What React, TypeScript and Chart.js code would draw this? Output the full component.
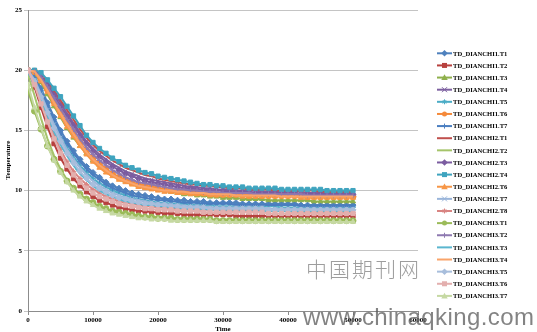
import React, { useEffect, useRef } from "react";
import { Chart, registerables } from "chart.js";
Chart.register(...registerables);

const times = [0, 1000, 2000, 3000, 4000, 5000, 6000, 7000, 8000, 9000, 10000, 11000, 12000, 13000, 14000, 15000, 16000, 17000, 18000, 19000, 20000, 21000, 22000, 23000, 24000, 25000, 26000, 27000, 28000, 29000, 30000, 31000, 32000, 33000, 34000, 35000, 36000, 37000, 38000, 39000, 40000, 41000, 42000, 43000, 44000, 45000, 46000, 47000, 48000, 49000, 50000];

const xTicks = [0, 10000, 20000, 30000, 40000, 50000, 60000];
const yTicks = [0, 5, 10, 15, 20, 25];

const names = [
  "TD_DIANCHI1.T1", "TD_DIANCHI1.T2", "TD_DIANCHI1.T3", "TD_DIANCHI1.T4", "TD_DIANCHI1.T5", "TD_DIANCHI1.T6", "TD_DIANCHI1.T7",
  "TD_DIANCHI2.T1", "TD_DIANCHI2.T2", "TD_DIANCHI2.T3", "TD_DIANCHI2.T4", "TD_DIANCHI2.T6", "TD_DIANCHI2.T7", "TD_DIANCHI2.T8",
  "TD_DIANCHI3.T1", "TD_DIANCHI3.T2", "TD_DIANCHI3.T3", "TD_DIANCHI3.T4", "TD_DIANCHI3.T5", "TD_DIANCHI3.T6", "TD_DIANCHI3.T7",
];

const colors = [
  "#4F81BD", "#B7413E", "#8FB04C", "#7D60A0", "#4BACC6", "#F58A3A", "#4A7EC0",
  "#C0504D", "#A5C46A", "#7B5CA0", "#3FA4BF", "#F79646", "#9AB5DA", "#D98482",
  "#9BBB59", "#8E79B0", "#5BB6CF", "#F9A46A", "#A8BEDC", "#E3AFAE", "#C6D9A3",
];

const markers = [
  "rectRot", "rect", "triangle", "crossRot", "star", "circle", "cross",
  "none", "none", "rectRot", "rect", "triangle", "crossRot", "star",
  "circle", "cross", "none", "none", "rectRot", "rect", "triangle",
];

const d1_T1 = [20.0, 19.5, 18.5, 17.3, 16.1, 15.0, 14.1, 13.3, 12.6, 12.0, 11.5, 11.1, 10.7, 10.4, 10.2, 10.0, 9.8, 9.7, 9.6, 9.5, 9.4, 9.3, 9.3, 9.2, 9.2, 9.1, 9.1, 9.1, 9.0, 9.0, 9.0, 9.0, 9.0, 8.9, 8.9, 8.9, 8.9, 8.9, 8.9, 8.9, 8.9, 8.9, 8.8, 8.8, 8.8, 8.8, 8.8, 8.8, 8.8, 8.8, 8.8];
const d1_T2 = [20.0, 18.6, 16.9, 15.3, 13.9, 12.7, 11.8, 11.0, 10.4, 9.9, 9.5, 9.2, 9.0, 8.8, 8.6, 8.5, 8.4, 8.3, 8.3, 8.2, 8.2, 8.1, 8.1, 8.1, 8.0, 8.0, 8.0, 8.0, 8.0, 8.0, 8.0, 8.0, 7.9, 7.9, 7.9, 7.9, 7.9, 7.9, 7.9, 7.9, 7.9, 7.9, 7.9, 7.9, 7.9, 7.9, 7.9, 7.9, 7.9, 7.9, 7.9];
const d1_T3 = [20.0, 19.7, 19.0, 18.0, 17.0, 16.1, 15.2, 14.4, 13.7, 13.1, 12.5, 12.1, 11.7, 11.4, 11.1, 10.8, 10.6, 10.4, 10.3, 10.2, 10.1, 10.0, 9.9, 9.8, 9.7, 9.7, 9.6, 9.6, 9.5, 9.5, 9.4, 9.4, 9.4, 9.3, 9.3, 9.3, 9.3, 9.2, 9.2, 9.2, 9.2, 9.2, 9.2, 9.2, 9.1, 9.1, 9.1, 9.1, 9.1, 9.1, 9.1];
const d1_T4 = [20.0, 20.0, 19.6, 18.9, 18.1, 17.3, 16.4, 15.6, 14.8, 14.1, 13.5, 13.0, 12.6, 12.2, 11.9, 11.6, 11.4, 11.2, 11.0, 10.9, 10.8, 10.7, 10.6, 10.5, 10.4, 10.3, 10.3, 10.2, 10.2, 10.1, 10.1, 10.1, 10.0, 10.0, 10.0, 10.0, 9.9, 9.9, 9.9, 9.9, 9.9, 9.9, 9.9, 9.8, 9.8, 9.8, 9.8, 9.8, 9.8, 9.8, 9.8];
const d1_T5 = [20.0, 19.3, 18.1, 16.8, 15.6, 14.5, 13.6, 12.8, 12.1, 11.5, 11.0, 10.6, 10.3, 10.0, 9.8, 9.6, 9.4, 9.3, 9.2, 9.1, 9.0, 9.0, 8.9, 8.9, 8.9, 8.8, 8.8, 8.8, 8.8, 8.7, 8.7, 8.7, 8.7, 8.7, 8.7, 8.7, 8.7, 8.7, 8.7, 8.6, 8.6, 8.6, 8.6, 8.6, 8.6, 8.6, 8.6, 8.6, 8.6, 8.6, 8.6];
const d1_T6 = [20.0, 19.9, 19.3, 18.4, 17.4, 16.5, 15.6, 14.8, 14.0, 13.3, 12.7, 12.2, 11.8, 11.4, 11.1, 10.9, 10.7, 10.5, 10.4, 10.3, 10.2, 10.1, 10.0, 10.0, 9.9, 9.9, 9.8, 9.8, 9.8, 9.7, 9.7, 9.7, 9.7, 9.7, 9.6, 9.6, 9.6, 9.6, 9.6, 9.6, 9.6, 9.6, 9.6, 9.5, 9.5, 9.5, 9.5, 9.5, 9.5, 9.5, 9.5];
const d1_T7 = [20.0, 19.4, 18.3, 17.1, 15.9, 14.8, 13.9, 13.1, 12.4, 11.8, 11.3, 10.9, 10.5, 10.2, 10.0, 9.8, 9.6, 9.5, 9.4, 9.3, 9.2, 9.2, 9.1, 9.1, 9.0, 9.0, 9.0, 8.9, 8.9, 8.9, 8.9, 8.9, 8.8, 8.8, 8.8, 8.8, 8.8, 8.8, 8.8, 8.8, 8.8, 8.8, 8.7, 8.7, 8.7, 8.7, 8.7, 8.7, 8.7, 8.7, 8.7];
const d2_T1 = [20.0, 20.0, 19.7, 19.1, 18.3, 17.5, 16.7, 15.9, 15.1, 14.4, 13.8, 13.3, 12.9, 12.5, 12.2, 11.9, 11.7, 11.5, 11.3, 11.2, 11.0, 10.9, 10.8, 10.7, 10.6, 10.5, 10.5, 10.4, 10.4, 10.3, 10.3, 10.2, 10.2, 10.2, 10.1, 10.1, 10.1, 10.1, 10.0, 10.0, 10.0, 10.0, 10.0, 10.0, 10.0, 9.9, 9.9, 9.9, 9.9, 9.9, 9.9];
const d2_T2 = [19.6, 17.9, 16.0, 14.3, 12.9, 11.8, 10.9, 10.2, 9.6, 9.2, 8.9, 8.6, 8.4, 8.3, 8.2, 8.1, 8.0, 7.9, 7.9, 7.8, 7.8, 7.8, 7.7, 7.7, 7.7, 7.7, 7.7, 7.7, 7.6, 7.6, 7.6, 7.6, 7.6, 7.6, 7.6, 7.6, 7.6, 7.6, 7.6, 7.6, 7.6, 7.6, 7.6, 7.6, 7.6, 7.6, 7.6, 7.6, 7.6, 7.6, 7.6];
const d2_T3 = [20.0, 19.9, 19.5, 18.8, 17.9, 17.0, 16.2, 15.4, 14.6, 13.9, 13.3, 12.8, 12.4, 12.0, 11.7, 11.4, 11.2, 11.0, 10.8, 10.7, 10.6, 10.5, 10.4, 10.3, 10.2, 10.2, 10.1, 10.1, 10.0, 10.0, 10.0, 9.9, 9.9, 9.9, 9.9, 9.8, 9.8, 9.8, 9.8, 9.8, 9.8, 9.8, 9.7, 9.7, 9.7, 9.7, 9.7, 9.7, 9.7, 9.7, 9.7];
const d2_T4 = [20.0, 20.0, 19.8, 19.2, 18.5, 17.8, 17.0, 16.2, 15.4, 14.6, 14.0, 13.5, 13.1, 12.7, 12.4, 12.1, 11.9, 11.7, 11.5, 11.4, 11.2, 11.1, 11.0, 10.9, 10.8, 10.7, 10.6, 10.5, 10.5, 10.4, 10.4, 10.3, 10.3, 10.3, 10.2, 10.2, 10.2, 10.2, 10.2, 10.1, 10.1, 10.1, 10.1, 10.1, 10.1, 10.1, 10.0, 10.0, 10.0, 10.0, 10.0];
const d2_T6 = [20.0, 19.8, 19.1, 18.2, 17.2, 16.2, 15.3, 14.5, 13.7, 13.0, 12.4, 11.9, 11.5, 11.2, 10.9, 10.7, 10.5, 10.3, 10.2, 10.1, 10.0, 9.9, 9.9, 9.8, 9.8, 9.7, 9.7, 9.7, 9.6, 9.6, 9.6, 9.6, 9.6, 9.5, 9.5, 9.5, 9.5, 9.5, 9.5, 9.5, 9.5, 9.5, 9.4, 9.4, 9.4, 9.4, 9.4, 9.4, 9.4, 9.4, 9.4];
const d2_T7 = [20.0, 19.2, 18.0, 16.7, 15.5, 14.4, 13.4, 12.6, 11.9, 11.3, 10.8, 10.4, 10.1, 9.8, 9.6, 9.4, 9.3, 9.2, 9.1, 9.0, 8.9, 8.9, 8.8, 8.8, 8.7, 8.7, 8.7, 8.7, 8.6, 8.6, 8.6, 8.6, 8.6, 8.6, 8.6, 8.6, 8.6, 8.5, 8.5, 8.5, 8.5, 8.5, 8.5, 8.5, 8.5, 8.5, 8.5, 8.5, 8.5, 8.5, 8.5];
const d2_T8 = [20.0, 18.9, 17.4, 15.9, 14.6, 13.4, 12.4, 11.6, 11.0, 10.5, 10.1, 9.8, 9.5, 9.3, 9.1, 9.0, 8.9, 8.8, 8.7, 8.7, 8.6, 8.6, 8.5, 8.5, 8.5, 8.4, 8.4, 8.4, 8.4, 8.4, 8.3, 8.3, 8.3, 8.3, 8.3, 8.3, 8.3, 8.3, 8.3, 8.3, 8.3, 8.2, 8.2, 8.2, 8.2, 8.2, 8.2, 8.2, 8.2, 8.2, 8.2];
const d3_T1 = [18.3, 16.6, 15.1, 13.7, 12.6, 11.6, 10.8, 10.2, 9.7, 9.3, 9.0, 8.7, 8.5, 8.3, 8.2, 8.1, 8.0, 7.9, 7.8, 7.8, 7.7, 7.7, 7.7, 7.6, 7.6, 7.6, 7.6, 7.6, 7.6, 7.5, 7.5, 7.5, 7.5, 7.5, 7.5, 7.5, 7.5, 7.5, 7.5, 7.5, 7.5, 7.5, 7.5, 7.5, 7.5, 7.5, 7.5, 7.5, 7.5, 7.5, 7.5];
const d3_T2 = [20.0, 19.9, 19.4, 18.6, 17.7, 16.8, 15.9, 15.1, 14.3, 13.6, 13.0, 12.5, 12.1, 11.7, 11.4, 11.1, 10.9, 10.7, 10.6, 10.5, 10.4, 10.3, 10.2, 10.1, 10.1, 10.0, 10.0, 9.9, 9.9, 9.9, 9.8, 9.8, 9.8, 9.8, 9.8, 9.7, 9.7, 9.7, 9.7, 9.7, 9.7, 9.7, 9.7, 9.6, 9.6, 9.6, 9.6, 9.6, 9.6, 9.6, 9.6];
const d3_T3 = [19.8, 18.9, 17.6, 16.2, 14.9, 13.8, 12.9, 12.1, 11.4, 10.9, 10.4, 10.0, 9.7, 9.5, 9.3, 9.1, 9.0, 8.9, 8.8, 8.8, 8.7, 8.7, 8.6, 8.6, 8.5, 8.5, 8.5, 8.5, 8.4, 8.4, 8.4, 8.4, 8.4, 8.4, 8.4, 8.4, 8.3, 8.3, 8.3, 8.3, 8.3, 8.3, 8.3, 8.3, 8.3, 8.3, 8.3, 8.3, 8.3, 8.3, 8.3];
const d3_T4 = [20.0, 19.9, 19.2, 18.3, 17.3, 16.4, 15.5, 14.7, 13.9, 13.2, 12.6, 12.1, 11.7, 11.3, 11.0, 10.8, 10.6, 10.4, 10.3, 10.2, 10.1, 10.0, 10.0, 9.9, 9.9, 9.8, 9.8, 9.8, 9.7, 9.7, 9.7, 9.7, 9.6, 9.6, 9.6, 9.6, 9.6, 9.6, 9.6, 9.5, 9.5, 9.5, 9.5, 9.5, 9.5, 9.5, 9.5, 9.5, 9.5, 9.5, 9.5];
const d3_T5 = [20.0, 19.1, 17.8, 16.5, 15.2, 14.1, 13.1, 12.3, 11.6, 11.0, 10.5, 10.2, 9.9, 9.6, 9.4, 9.3, 9.1, 9.0, 8.9, 8.9, 8.8, 8.8, 8.7, 8.7, 8.6, 8.6, 8.6, 8.6, 8.5, 8.5, 8.5, 8.5, 8.5, 8.5, 8.5, 8.5, 8.5, 8.4, 8.4, 8.4, 8.4, 8.4, 8.4, 8.4, 8.4, 8.4, 8.4, 8.4, 8.4, 8.4, 8.4];
const d3_T6 = [20.0, 18.8, 17.2, 15.7, 14.3, 13.1, 12.1, 11.3, 10.7, 10.2, 9.8, 9.5, 9.3, 9.1, 8.9, 8.8, 8.7, 8.6, 8.5, 8.5, 8.4, 8.4, 8.4, 8.3, 8.3, 8.3, 8.3, 8.2, 8.2, 8.2, 8.2, 8.2, 8.2, 8.2, 8.2, 8.2, 8.2, 8.1, 8.1, 8.1, 8.1, 8.1, 8.1, 8.1, 8.1, 8.1, 8.1, 8.1, 8.1, 8.1, 8.1];
const d3_T7 = [18.8, 16.9, 15.2, 13.7, 12.5, 11.5, 10.7, 10.0, 9.5, 9.1, 8.8, 8.5, 8.3, 8.1, 8.0, 7.9, 7.8, 7.7, 7.7, 7.6, 7.6, 7.6, 7.5, 7.5, 7.5, 7.5, 7.5, 7.5, 7.5, 7.4, 7.4, 7.4, 7.4, 7.4, 7.4, 7.4, 7.4, 7.4, 7.4, 7.4, 7.4, 7.4, 7.4, 7.4, 7.4, 7.4, 7.4, 7.4, 7.4, 7.4, 7.4];

const seriesValues = [
  d1_T1, d1_T2, d1_T3, d1_T4, d1_T5, d1_T6, d1_T7,
  d2_T1, d2_T2, d2_T3, d2_T4, d2_T6, d2_T7, d2_T8,
  d3_T1, d3_T2, d3_T3, d3_T4, d3_T5, d3_T6, d3_T7,
];

const SERIF = '"Liberation Serif", "Times New Roman", serif';

function drawMarker(ctx: CanvasRenderingContext2D, style: string, x: number, y: number, r: number, color: string) {
  ctx.save();
  ctx.fillStyle = color;
  ctx.strokeStyle = color;
  ctx.lineWidth = 1;
  ctx.beginPath();
  switch (style) {
    case "circle":
      ctx.arc(x, y, r, 0, Math.PI * 2);
      ctx.fill();
      break;
    case "rect":
      ctx.fillRect(x - r, y - r, 2 * r, 2 * r);
      break;
    case "rectRot":
      ctx.moveTo(x, y - r * 1.3);
      ctx.lineTo(x + r * 1.3, y);
      ctx.lineTo(x, y + r * 1.3);
      ctx.lineTo(x - r * 1.3, y);
      ctx.closePath();
      ctx.fill();
      break;
    case "triangle":
      ctx.moveTo(x, y - r * 1.3);
      ctx.lineTo(x + r * 1.3, y + r);
      ctx.lineTo(x - r * 1.3, y + r);
      ctx.closePath();
      ctx.fill();
      break;
    case "cross":
      ctx.moveTo(x - r, y); ctx.lineTo(x + r, y);
      ctx.moveTo(x, y - r); ctx.lineTo(x, y + r);
      ctx.stroke();
      break;
    case "crossRot":
      ctx.moveTo(x - r, y - r); ctx.lineTo(x + r, y + r);
      ctx.moveTo(x - r, y + r); ctx.lineTo(x + r, y - r);
      ctx.stroke();
      break;
    case "star":
      ctx.moveTo(x - r, y); ctx.lineTo(x + r, y);
      ctx.moveTo(x, y - r); ctx.lineTo(x, y + r);
      ctx.moveTo(x - r * 0.7, y - r * 0.7); ctx.lineTo(x + r * 0.7, y + r * 0.7);
      ctx.moveTo(x - r * 0.7, y + r * 0.7); ctx.lineTo(x + r * 0.7, y - r * 0.7);
      ctx.stroke();
      break;
    default:
      break;
  }
  ctx.restore();
}

const overlayPlugin = {
  id: "overlay",
  afterDraw(chart: any) {
    const ctx: CanvasRenderingContext2D = chart.ctx;
    const area = chart.chartArea;
    ctx.save();
    const rowStart = 53.3;
    const rowGap = 12.13;
    names.forEach((name, i) => {
      const y = rowStart + rowGap * i;
      ctx.strokeStyle = colors[i];
      ctx.lineWidth = 2;
      ctx.beginPath();
      ctx.moveTo(437, y);
      ctx.lineTo(452, y);
      ctx.stroke();
      if (markers[i] !== "none") drawMarker(ctx, markers[i], 444.5, y, 2.5, colors[i]);
      ctx.fillStyle = "#000";
      ctx.font = `bold 6.6px ${SERIF}`;
      ctx.textAlign = "left";
      ctx.textBaseline = "middle";
      ctx.fillText(name, 453, y + 0.5);
    });
    ctx.fillStyle = "#000";
    ctx.font = `bold 7px ${SERIF}`;
    ctx.textAlign = "center";
    ctx.textBaseline = "middle";
    ctx.fillText("Time", (area.left + area.right) / 2, 329);
    ctx.save();
    ctx.translate(8, 160);
    ctx.rotate(-Math.PI / 2);
    ctx.fillText("Temperature", 0, 0);
    ctx.restore();
    ctx.restore();
  },
};

export default function App() {
  const canvasRef = useRef<HTMLCanvasElement | null>(null);

  useEffect(() => {
    const prevMargin = document.body.style.margin;
    document.body.style.margin = "0";
    const canvas = canvasRef.current;
    if (!canvas) return;
    const datasets = names.map((name, i) => {
      const m = markers[i];
      const big = m === "rect" || m === "circle" || m === "triangle" || m === "rectRot";
      return {
        label: name,
        data: times.map((t, k) => ({ x: t, y: seriesValues[i][k] })),
        borderColor: colors[i],
        backgroundColor: colors[i],
        pointBackgroundColor: colors[i],
        pointBorderColor: colors[i],
        pointStyle: m === "none" ? "circle" : m,
        pointRadius: m === "none" ? 0 : big ? 3 : 2.8,
        pointBorderWidth: 1,
        borderWidth: 2,
        fill: false,
        tension: 0,
        order: names.length - i,
      };
    });
    const tickFont = { family: SERIF, size: 7, weight: "bold" as const };
    const chart = new Chart(canvas, {
      type: "line",
      data: { datasets },
      options: {
        animation: false,
        responsive: false,
        maintainAspectRatio: false,
        events: [],
        layout: { padding: { top: 10, right: 119, bottom: 0, left: 0 } },
        plugins: { legend: { display: false }, tooltip: { enabled: false } },
        scales: {
          x: {
            type: "linear",
            min: 0,
            max: 60000,
            afterBuildTicks: (scale: any) => {
              scale.ticks = xTicks.map((v) => ({ value: v }));
            },
            ticks: {
              font: tickFont,
              color: "#000",
              padding: 1,
              maxRotation: 0,
              autoSkip: false,
              callback: (v: any) => String(v),
            },
            grid: { display: true, drawOnChartArea: false, tickLength: 4, color: "#8C8C8C" },
            border: { color: "#8C8C8C" },
            afterFit: (scale: any) => {
              scale.height = 21;
            },
          },
          y: {
            type: "linear",
            min: 0,
            max: 25,
            afterBuildTicks: (scale: any) => {
              scale.ticks = yTicks.map((v) => ({ value: v }));
            },
            ticks: {
              font: tickFont,
              color: "#000",
              padding: 2,
              autoSkip: false,
              callback: (v: any) => String(v),
            },
            grid: { color: "#C4C4C4", tickLength: 4, lineWidth: 1 },
            border: { color: "#8C8C8C" },
            afterFit: (scale: any) => {
              scale.width = 28;
            },
          },
        },
      },
      plugins: [overlayPlugin],
    } as any);
    return () => {
      chart.destroy();
      document.body.style.margin = prevMargin;
    };
  }, []);

  return (
    <div style={{ position: "relative", width: 537, height: 332, overflow: "hidden", background: "#fff" }}>
      <canvas ref={canvasRef} width={537} height={332} style={{ display: "block" }} />
      <div
        style={{
          position: "absolute",
          left: 306,
          top: 256,
          fontFamily: '"Noto Sans CJK SC", sans-serif',
          fontWeight: 300,
          fontSize: 21,
          letterSpacing: 2,
          color: "rgba(140,140,140,0.85)",
          whiteSpace: "nowrap",
          lineHeight: "24px",
        }}
      >
        中国期刊网
      </div>
      <div
        style={{
          position: "absolute",
          left: 303,
          top: 302,
          fontFamily: '"Liberation Sans", Arial, sans-serif',
          fontSize: 24,
          letterSpacing: 0.4,
          color: "rgba(90,90,90,0.75)",
          whiteSpace: "nowrap",
          lineHeight: "30px",
        }}
      >
        www.chinaqking.com
      </div>
    </div>
  );
}
